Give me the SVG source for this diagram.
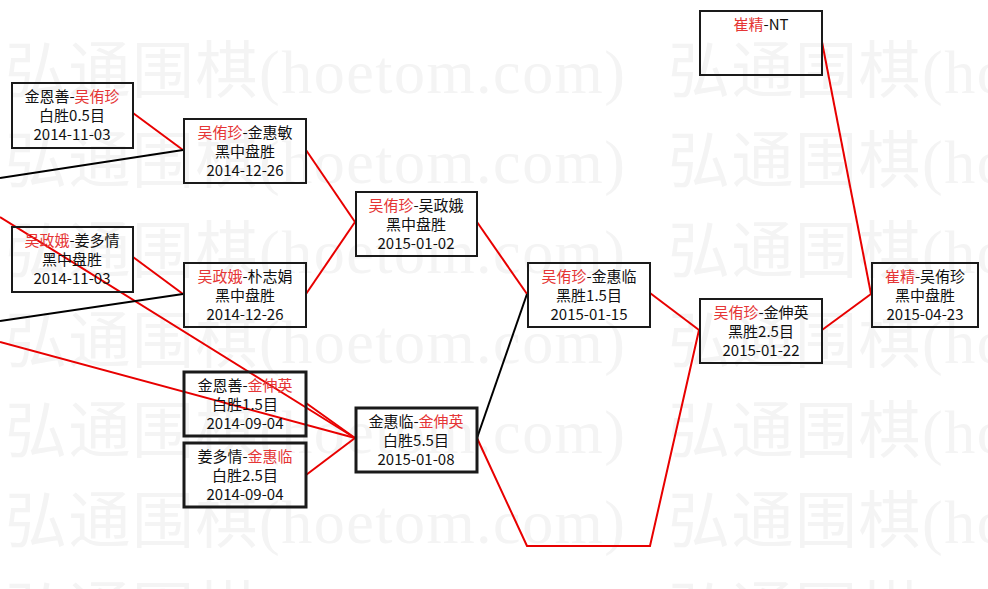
<svg xmlns="http://www.w3.org/2000/svg" xmlns:xlink="http://www.w3.org/1999/xlink" width="988" height="589" viewBox="0 0 988 589">
<style>
.wm{font-family:"Liberation Serif","Noto Sans CJK SC",serif;font-size:62px;fill:#f4f4f4}
.box{fill:none;stroke:#1a1a1a;stroke-width:2}
.thick{stroke-width:3}
.t{font-family:"Noto Sans CJK SC","Noto Sans",sans-serif;font-size:15px;fill:#111;text-anchor:middle}
.r{fill:#e53535}
.lr{stroke:#e80000;stroke-width:2;fill:none}
.lb{stroke:#000;stroke-width:2;fill:none}
</style>
<defs>
<text id="wmt" class="wm" x="0" y="0" textLength="620" lengthAdjust="spacing">弘通围棋(hoetom.com)</text>
</defs>
<rect width="988" height="589" fill="#ffffff"/>
<g id="watermark">
<use xlink:href="#wmt" x="5" y="93"/><use xlink:href="#wmt" x="668" y="93"/>
<use xlink:href="#wmt" x="5" y="183"/><use xlink:href="#wmt" x="668" y="183"/>
<use xlink:href="#wmt" x="5" y="273"/><use xlink:href="#wmt" x="668" y="273"/>
<use xlink:href="#wmt" x="5" y="363"/><use xlink:href="#wmt" x="668" y="363"/>
<use xlink:href="#wmt" x="5" y="453"/><use xlink:href="#wmt" x="668" y="453"/>
<use xlink:href="#wmt" x="5" y="543"/><use xlink:href="#wmt" x="668" y="543"/>
<use xlink:href="#wmt" x="5" y="633"/><use xlink:href="#wmt" x="668" y="633"/>
</g>
<g id="connectors">
<line class="lr" x1="133" y1="113" x2="183" y2="150"/>
<line class="lb" x1="0" y1="178" x2="183" y2="150"/>
<line class="lr" x1="0" y1="217" x2="355" y2="438"/>
<line class="lr" x1="133" y1="257" x2="183" y2="294"/>
<line class="lb" x1="0" y1="321" x2="183" y2="294"/>
<line class="lr" x1="306" y1="150" x2="355" y2="222"/>
<line class="lr" x1="306" y1="294" x2="355" y2="222"/>
<line class="lr" x1="0" y1="342" x2="355" y2="438"/>
<line class="lr" x1="306" y1="403" x2="355" y2="438"/>
<line class="lr" x1="306" y1="475" x2="355" y2="438"/>
<line class="lr" x1="477" y1="222" x2="527" y2="294"/>
<line class="lb" x1="477" y1="438" x2="527" y2="294"/>
<polyline class="lr" points="477,438 527,546 650,546 699,330"/>
<line class="lr" x1="650" y1="293" x2="699" y2="330"/>
<line class="lr" x1="822" y1="330" x2="871" y2="294"/>
<line class="lr" x1="822" y1="42" x2="871" y2="294"/>
</g>
<g id="n1"><rect class="box" x="12" y="83" width="121" height="65"/>
<text class="t" x="72" y="102">金恩善-<tspan class="r">吴侑珍</tspan></text>
<text class="t" x="72" y="121">白胜0.5目</text>
<text class="t" x="72" y="140">2014-11-03</text></g>
<g id="n2"><rect class="box" x="184" y="119" width="122" height="64"/>
<text class="t" x="245" y="138"><tspan class="r">吴侑珍</tspan>-金惠敏</text>
<text class="t" x="245" y="157">黑中盘胜</text>
<text class="t" x="245" y="176">2014-12-26</text></g>
<g id="n3"><rect class="box" x="12" y="227" width="121" height="65"/>
<text class="t" x="72" y="246"><tspan class="r">吴政娥</tspan>-姜多情</text>
<text class="t" x="72" y="265">黑中盘胜</text>
<text class="t" x="72" y="284">2014-11-03</text></g>
<g id="n4"><rect class="box" x="184" y="263" width="122" height="64"/>
<text class="t" x="245" y="282"><tspan class="r">吴政娥</tspan>-朴志娟</text>
<text class="t" x="245" y="301">黑中盘胜</text>
<text class="t" x="245" y="320">2014-12-26</text></g>
<g id="n5"><rect class="box" x="356" y="192" width="121" height="64"/>
<text class="t" x="416" y="211"><tspan class="r">吴侑珍</tspan>-吴政娥</text>
<text class="t" x="416" y="230">黑中盘胜</text>
<text class="t" x="416" y="249">2015-01-02</text></g>
<g id="n6"><rect class="box thick" x="184" y="372" width="122" height="64"/>
<text class="t" x="245" y="391">金恩善-<tspan class="r">金伸英</tspan></text>
<text class="t" x="245" y="410">白胜1.5目</text>
<text class="t" x="245" y="429">2014-09-04</text></g>
<g id="n7"><rect class="box thick" x="184" y="443" width="122" height="64"/>
<text class="t" x="245" y="462">姜多情-<tspan class="r">金惠临</tspan></text>
<text class="t" x="245" y="481">白胜2.5目</text>
<text class="t" x="245" y="500">2014-09-04</text></g>
<g id="n8"><rect class="box thick" x="356" y="408" width="121" height="64"/>
<text class="t" x="416" y="427">金惠临-<tspan class="r">金伸英</tspan></text>
<text class="t" x="416" y="446">白胜5.5目</text>
<text class="t" x="416" y="465">2015-01-08</text></g>
<g id="n9"><rect class="box" x="528" y="263" width="122" height="64"/>
<text class="t" x="589" y="282"><tspan class="r">吴侑珍</tspan>-金惠临</text>
<text class="t" x="589" y="301">黑胜1.5目</text>
<text class="t" x="589" y="320">2015-01-15</text></g>
<g id="n10"><rect class="box" x="700" y="299" width="122" height="64"/>
<text class="t" x="761" y="318"><tspan class="r">吴侑珍</tspan>-金伸英</text>
<text class="t" x="761" y="337">黑胜2.5目</text>
<text class="t" x="761" y="356">2015-01-22</text></g>
<g id="n11"><rect class="box" x="700" y="11" width="122" height="64"/>
<text class="t" x="761" y="30"><tspan class="r">崔精</tspan>-NT</text></g>
<g id="n12"><rect class="box" x="872" y="263" width="106" height="64"/>
<text class="t" x="925" y="282"><tspan class="r">崔精</tspan>-吴侑珍</text>
<text class="t" x="925" y="301">黑中盘胜</text>
<text class="t" x="925" y="320">2015-04-23</text></g>
</svg>
